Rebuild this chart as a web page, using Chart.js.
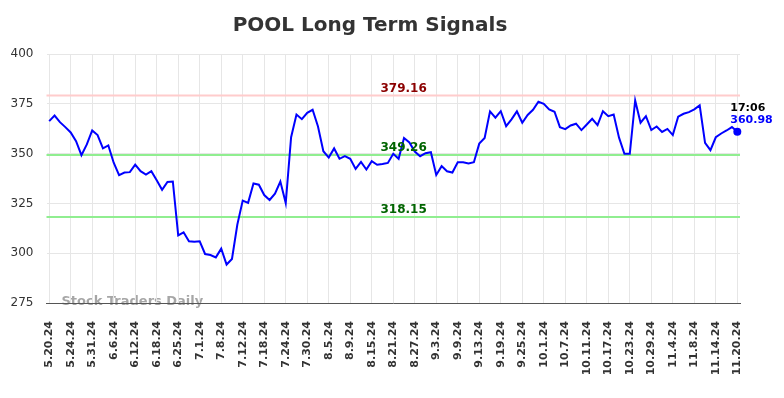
<!DOCTYPE html>
<html>
<head>
<meta charset="utf-8">
<title>POOL Long Term Signals</title>
<script src="https://cdn.jsdelivr.net/npm/chart.js@4.4.1/dist/chart.umd.min.js"></script>
<style>
  html, body { margin: 0; padding: 0; background: #fff; }
  .chartBox { position: relative; width: 784px; height: 398px; }
</style>
</head>
<body>
<div class="chartBox"><canvas id="chart"></canvas></div>
<script>
// trading days shown on the x axis
const dates = [
  '5.20.24','5.21.24','5.22.24','5.23.24','5.24.24','5.28.24','5.29.24','5.30.24','5.31.24',
  '6.3.24','6.4.24','6.5.24','6.6.24','6.7.24','6.10.24','6.11.24','6.12.24','6.13.24','6.14.24',
  '6.17.24','6.18.24','6.20.24','6.21.24','6.24.24','6.25.24','6.26.24','6.27.24','6.28.24',
  '7.1.24','7.2.24','7.3.24','7.5.24','7.8.24','7.9.24','7.10.24','7.11.24','7.12.24','7.15.24',
  '7.16.24','7.17.24','7.18.24','7.19.24','7.22.24','7.23.24','7.24.24','7.25.24','7.26.24',
  '7.29.24','7.30.24','7.31.24',
  '8.1.24','8.2.24','8.5.24','8.6.24','8.7.24','8.8.24','8.9.24','8.12.24','8.13.24','8.14.24',
  '8.15.24','8.16.24','8.19.24','8.20.24','8.21.24','8.22.24','8.23.24','8.26.24','8.27.24',
  '8.28.24','8.29.24','8.30.24',
  '9.3.24','9.4.24','9.5.24','9.6.24','9.9.24','9.10.24','9.11.24','9.12.24','9.13.24','9.16.24',
  '9.17.24','9.18.24','9.19.24','9.20.24','9.23.24','9.24.24','9.25.24','9.26.24','9.27.24','9.30.24',
  '10.1.24','10.2.24','10.3.24','10.4.24','10.7.24','10.8.24','10.9.24','10.10.24','10.11.24',
  '10.14.24','10.15.24','10.16.24','10.17.24','10.18.24','10.21.24','10.22.24','10.23.24',
  '10.24.24','10.25.24','10.28.24','10.29.24','10.30.24','10.31.24',
  '11.1.24','11.4.24','11.5.24','11.6.24','11.7.24','11.8.24','11.11.24','11.12.24','11.13.24',
  '11.14.24','11.15.24','11.18.24','11.19.24','11.20.24'
];

// closing prices
const prices = [
  366.3, 369.1, 365.8, 363.3, 360.6, 356.2, 349.2, 354.6, 361.6, 359.3,
  352.6, 354.1, 345.4, 339.2, 340.5, 340.7, 344.5, 341.2, 339.5, 341.2,
  336.6, 331.8, 335.8, 336.0, 309.0, 310.5, 306.0, 305.7, 306.0, 299.6,
  299.1, 297.9, 302.3, 294.3, 297.1, 314.4, 326.4, 325.3, 335.0, 334.4,
  329.2, 326.7, 329.9, 336.0, 325.2, 358.2, 369.6, 367.3, 370.5, 372.0,
  363.6, 351.2, 348.0, 352.6, 347.4, 348.7, 347.4, 342.3, 345.8, 342.0,
  346.2, 344.4, 344.8, 345.3, 349.9, 347.4, 357.8, 355.6, 351.0, 348.7,
  350.2, 350.7, 339.3, 343.7, 341.1, 340.5, 345.7, 345.7, 345.1, 345.7,
  355.0, 357.8, 371.2, 368.0, 371.3, 363.8, 367.2, 371.2, 365.5, 369.4,
  372.0, 376.0, 375.0, 372.2, 371.0, 363.3, 362.3, 364.1, 365.0, 361.8,
  364.6, 367.5, 364.3, 371.3, 368.8, 369.6, 358.0, 349.9, 349.9, 376.7,
  365.5, 368.8, 361.8, 363.6, 360.9, 362.4, 359.3, 368.5, 370.0, 370.8,
  372.2, 374.2, 355.4, 351.7, 358.2, 360.1, 361.6, 363.3, 360.98
];

// signal levels
const levels = [379.16, 349.26, 318.15];
const levelKinds = ['resistance', 'signal', 'support'];

const yTicks = { min: 275, max: 400, step: 25 };
const lastTime = '17:06';

const FONT = "'DejaVu Sans', sans-serif";
const levelStyle = {
  resistance: { line: 'rgba(255,204,204,1)', text: '#8b0000' },
  signal:     { line: '#90ee90', text: '#006400' },
  support:    { line: '#90ee90', text: '#006400' }
};

const lastIndex = prices.length - 1;

// horizontal signal lines and their labels
const signalLines = {
  id: 'signalLines',
  beforeDatasetsDraw(chart) {
    const { ctx, chartArea, scales } = chart;
    ctx.save();
    levels.forEach((v, i) => {
      const y = scales.y.getPixelForValue(v);
      ctx.strokeStyle = levelStyle[levelKinds[i]].line;
      ctx.lineWidth = 2;
      ctx.beginPath();
      ctx.moveTo(chartArea.left, y);
      ctx.lineTo(chartArea.right, y);
      ctx.stroke();
    });
    ctx.restore();
  },
  afterDatasetsDraw(chart) {
    const { ctx, chartArea, scales } = chart;
    const x = chartArea.left + (chartArea.right - chartArea.left) * 0.515;
    ctx.save();
    ctx.font = 'bold 12px ' + FONT;
    ctx.textAlign = 'center';
    ctx.textBaseline = 'bottom';
    levels.forEach((v, i) => {
      const y = scales.y.getPixelForValue(v);
      ctx.fillStyle = levelStyle[levelKinds[i]].text;
      ctx.fillText(v.toFixed(2), x, y - 1);
    });

    // last price label
    const pt = chart.getDatasetMeta(0).data[lastIndex];
    ctx.textAlign = 'left';
    ctx.textBaseline = 'middle';
    ctx.font = 'bold 11px ' + FONT;
    ctx.fillStyle = '#000';
    ctx.fillText(lastTime, pt.x - 7, pt.y - 24);
    ctx.fillStyle = '#0000ff';
    ctx.fillText(prices[lastIndex].toFixed(2), pt.x - 7, pt.y - 11.5);
    ctx.restore();
  }
};

const watermark = {
  id: 'watermark',
  beforeDraw(chart) {
    const { ctx, chartArea } = chart;
    ctx.save();
    ctx.font = 'bold 13px ' + FONT;
    ctx.fillStyle = 'rgba(150,150,150,0.85)';
    ctx.textAlign = 'left';
    ctx.textBaseline = 'middle';
    ctx.fillText('Stock Traders Daily', chartArea.left + 15, chartArea.bottom - 1);
    ctx.restore();
  }
};

new Chart(document.getElementById('chart'), {
  type: 'line',
  data: {
    labels: dates,
    datasets: [{
      data: prices,
      borderColor: '#0000ff',
      backgroundColor: '#0000ff',
      borderWidth: 2,
      tension: 0,
      pointRadius: (c) => (c.dataIndex === lastIndex ? 4 : 0),
      pointBorderWidth: 0,
      pointHoverRadius: 0
    }]
  },
  options: {
    responsive: true,
    maintainAspectRatio: false,
    animation: false,
    layout: { padding: { left: 0, right: 44, top: 0, bottom: 0 } },
    plugins: {
      legend: { display: false },
      tooltip: { enabled: false },
      title: {
        display: true,
        text: 'POOL Long Term Signals',
        color: '#333',
        font: { family: FONT, size: 20, weight: 'bold' },
        padding: { top: 14, bottom: 16 }
      }
    },
    scales: {
      x: {
        offset: true,
        grid: { offset: false, color: '#e6e6e6', drawTicks: false },
        border: { color: '#555', width: 1 },
        ticks: {
          autoSkip: false,
          minRotation: 90,
          maxRotation: 90,
          padding: 18,
          color: '#333',
          font: { family: FONT, size: 11, weight: 'bold' },
          callback(v, i) { return i % 4 === 0 ? this.getLabelForValue(v) : null; }
        },
        afterFit(s) { s.height = 95; }
      },
      y: {
        min: yTicks.min,
        max: yTicks.max,
        ticks: {
          stepSize: yTicks.step,
          padding: 13,
          color: '#333',
          font: { family: FONT, size: 12 }
        },
        grid: { color: '#e6e6e6', drawTicks: false },
        border: { display: false },
        afterFit(s) { s.width = 46.5; }
      }
    }
  },
  plugins: [watermark, signalLines]
});
</script>
</body>
</html>
